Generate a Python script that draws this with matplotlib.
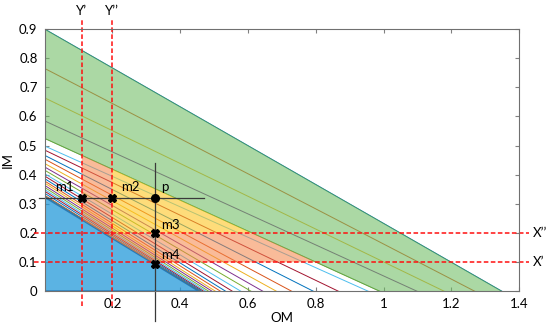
import matplotlib
matplotlib.use("Agg")
import numpy as np
import matplotlib.pyplot as plt
from matplotlib.patches import Polygon

plt.rcParams['font.family'] = ['Lato', 'DejaVu Sans']

# ── Data ───────────────────────────────────────────────────────────────────────
# each line runs from (0, im0) to (om0, 0); listed top to bottom
line_im0 = [0.900, 0.765, 0.664, 0.585, 0.525, 0.499, 0.485, 0.467, 0.454, 0.439,
            0.427, 0.416, 0.404, 0.396, 0.387, 0.379, 0.372, 0.364, 0.357, 0.350,
            0.344, 0.337, 0.330, 0.327]
line_om0 = [1.350, 1.270, 1.180, 1.100, 0.990, 0.956, 0.868, 0.794, 0.730, 0.685,
            0.645, 0.610, 0.580, 0.555, 0.535, 0.520, 0.505, 0.495, 0.485, 0.477,
            0.470, 0.465, 0.460, 0.459]
matlab_colors = ['#0072BD', '#D95319', '#EDB120', '#7E2F8E', '#77AC30', '#4DBEEE', '#A2142F']

green_top = (0.900, 1.350)     # (im0, om0)
green_low = (0.525, 0.990)
blue_edge = (0.325, 0.458)

x_prime, x_dprime = 0.10, 0.20      # X', X''
y_prime, y_dprime = 0.11, 0.20      # Y', Y''
p_om, p_im = 0.325, 0.32

x_ticks = [0.2, 0.4, 0.6, 0.8, 1.0, 1.2, 1.4]
x_ticklabels = ['0.2', '0.4', '0.6', '0.8', '1', '1.2', '1.4']
y_ticks = [0, 0.1, 0.2, 0.3, 0.4, 0.5, 0.6, 0.7, 0.8, 0.9]
y_ticklabels = ['0', '0.1', '0.2', '0.3', '0.4', '0.5', '0.6', '0.7', '0.8', '0.9']


def im_at(line, om):
    c, d = line
    return c * (1 - om / d)


def om_at(line, im):
    c, d = line
    return d * (1 - im / c)


# ── Figure ─────────────────────────────────────────────────────────────────────
fig = plt.figure(figsize=(5.5, 3.26), dpi=100)
ax = fig.add_axes([0.081, 0.106, 0.863, 0.805])
ax.set_xlim(0, 1.4)
ax.set_ylim(0, 0.9)

for i, (c, d) in enumerate(zip(line_im0, line_om0)):
    ax.plot([0, d], [c, 0], color=matlab_colors[i % 7], lw=0.7, zorder=2)

# filled regions (drawn over the lines, semi-transparent)
green = Polygon([(0, green_top[0]), (green_top[1], 0), (green_low[1], 0), (0, green_low[0])],
                closed=True, facecolor='#6EBC62', edgecolor='#4f9a48', lw=0.6,
                alpha=0.58, zorder=3)
ax.add_patch(green)

blue = Polygon([(0, 0), (0, blue_edge[0]), (blue_edge[1], 0)], closed=True,
               facecolor='#249ADA', edgecolor='#1565a8', lw=1.6, alpha=0.75, zorder=3)
ax.add_patch(blue)

orange_pts = [
    (y_prime, im_at(green_low, y_prime)),
    (y_prime, im_at(blue_edge, y_prime)),
    (om_at(blue_edge, x_prime), x_prime),
    (om_at(green_low, x_prime), x_prime),
    (om_at(green_low, x_dprime), x_dprime),
    (y_dprime, x_dprime),
    (y_dprime, im_at(green_low, y_dprime)),
]
ax.add_patch(Polygon(orange_pts, closed=True, facecolor='#F58446', edgecolor='none',
                     alpha=0.55, zorder=3))

yellow_pts = [
    (y_dprime, im_at(green_low, y_dprime)),
    (y_dprime, x_dprime),
    (om_at(green_low, x_dprime), x_dprime),
]
ax.add_patch(Polygon(yellow_pts, closed=True, facecolor='#FEC622', edgecolor='none',
                     alpha=0.6, zorder=3))

# red dashed construction lines (extend past the axes)
red_kw = dict(color='#FF1010', lw=1.1, ls=(0, (3, 1.6)), clip_on=False, zorder=5)
for xv in (y_prime, y_dprime):
    ax.plot([xv, xv], [-0.05, 0.935], **red_kw)
for yv in (x_prime, x_dprime):
    ax.plot([-0.03, 1.43], [yv, yv], **red_kw)

# black cross through p
blk_kw = dict(color='#3a3a3a', lw=0.9, clip_on=False, zorder=5)
ax.plot([p_om, p_om], [-0.10, 0.44], **blk_kw)
ax.plot([-0.015, 0.47], [p_im, p_im], **blk_kw)

# points
pts_x = [y_prime, y_dprime, p_om, p_om]
pts_y = [p_im, p_im, x_dprime, im_at(blue_edge, p_om)]
ax.plot(pts_x, pts_y, ls='none', marker='X', ms=5.5, color='black', mec='black', zorder=6)
ax.plot([p_om], [p_im], ls='none', marker='o', ms=5.5, color='black', zorder=6)

lab_kw = dict(fontsize=9.5, color='black', zorder=7)
ax.text(0.03, 0.343, 'm1', **lab_kw)
ax.text(0.225, 0.343, 'm2', **lab_kw)
ax.text(0.345, 0.343, 'p', **lab_kw)
ax.text(0.345, 0.213, 'm3', **lab_kw)
ax.text(0.345, 0.11, 'm4', **lab_kw)

ax.text(y_prime, 0.94, 'Y\u2019', ha='center', va='bottom', fontsize=9.5, clip_on=False)
ax.text(y_dprime, 0.94, 'Y\u2019\u2019', ha='center', va='bottom', fontsize=9.5, clip_on=False)
ax.text(1.44, x_dprime, 'X\u2019\u2019', ha='left', va='center', fontsize=9.5, clip_on=False)
ax.text(1.44, x_prime, 'X\u2019', ha='left', va='center', fontsize=9.5, clip_on=False)

# axes styling
ax.set_xticks(x_ticks)
ax.set_xticklabels(x_ticklabels)
ax.set_yticks(y_ticks)
ax.set_yticklabels(y_ticklabels)
ax.tick_params(direction='in', length=3, color='#808080', labelsize=9.5,
               top=True, right=True, pad=5)
for sp in ax.spines.values():
    sp.set_color('#707070')
    sp.set_linewidth(0.8)
    sp.set_zorder(8)
ax.set_xlabel('OM', fontsize=9.5, labelpad=1)
ax.set_ylabel('IM', fontsize=9.5, labelpad=4)

fig.savefig('out.png', dpi=100)
